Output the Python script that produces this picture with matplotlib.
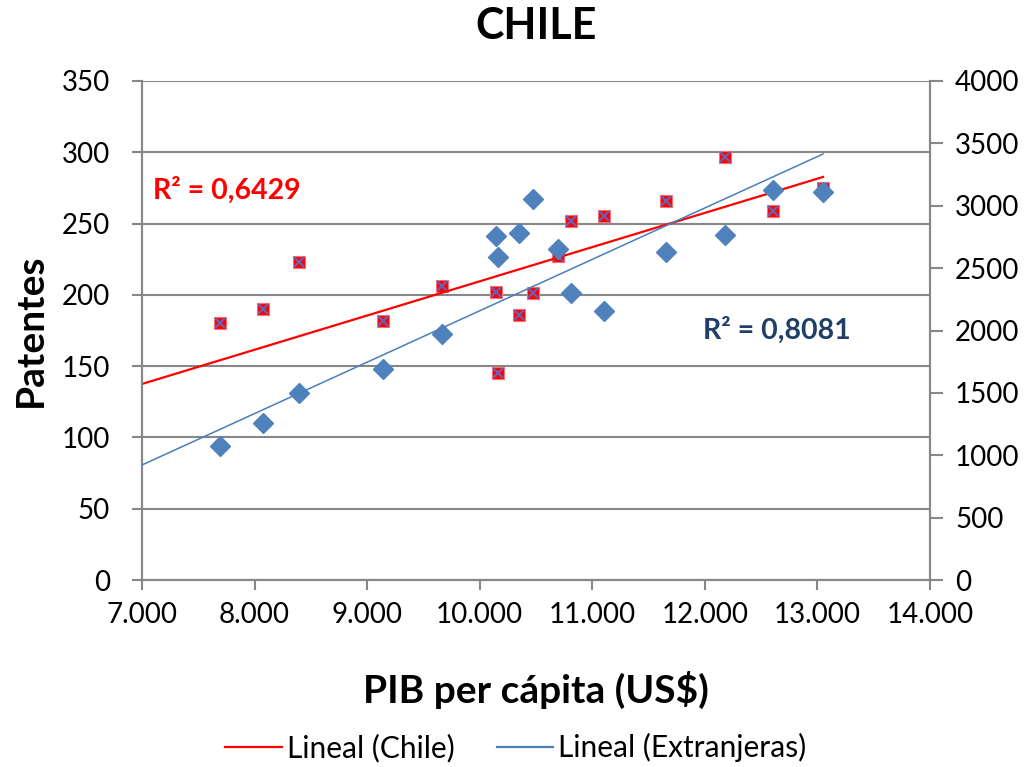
import numpy as np
import matplotlib
matplotlib.use("Agg")
import matplotlib.pyplot as plt
from matplotlib.ticker import FuncFormatter, MultipleLocator
from matplotlib.lines import Line2D

plt.rcParams['font.family'] = ['Lato', 'DejaVu Sans']

# PIB per cápita (US$)
pib = [7693, 8075, 8395, 9141, 9665, 10145, 10162, 10349, 10473,
       10695, 10811, 11104, 11655, 12179, 12605, 13050]
# patentes residentes (eje izquierdo)
chile = [180, 190, 223, 182, 206, 202, 145, 186, 201,
         227, 252, 255, 266, 297, 259, 275]
# patentes extranjeras (eje derecho)
extranjeras = [1074, 1258, 1499, 1691, 1972, 2757, 2589, 2782, 3054,
               2653, 2301, 2156, 2629, 2765, 3126, 3110]

# líneas de tendencia (PIB inicial / final)
tend_pib = [7000, 13050]
tend_chile = [137.5, 282.7]
tend_ext = [922, 3415]

r2_chile = "R² = 0,6429"
r2_ext = "R² = 0,8081"

gris = '#878787'
rojo = '#FF0000'
azul = '#4F81BD'
azul_linea = '#4A7EBB'

fig = plt.figure(figsize=(10.32, 7.67), dpi=100)
ax = fig.add_axes([0.1376, 0.2438, 0.9012 - 0.1376, 0.8944 - 0.2438])
ax2 = ax.twinx()

ax.set_xlim(7000, 14000)
ax.set_ylim(0, 350)
ax2.set_ylim(0, 4000)

# puntos Chile: cuadrado rojo con una x encima
ax.plot(pib, chile, 's', ms=8.6, mfc=rojo, mec='#ff7070', mew=0.8, zorder=3)
ax.plot(pib, chile, 'x', ms=7, mec='#6a5fb5', mew=1.6, zorder=4)
ax.plot(tend_pib, tend_chile, color=rojo, lw=1.6, zorder=5)

ax2.plot(pib, extranjeras, 'D', ms=10.2, mfc=azul, mec=azul, zorder=3)
ax2.plot(tend_pib, tend_ext, color=azul_linea, lw=1.1, zorder=4)

ax.text(7100, 273, r2_chile, color=rojo, fontsize=20.5, fontweight='bold',
        va='center', ha='left')
ax.text(11984, 175, r2_ext, color='#1F3F66', fontsize=20.5, fontweight='bold',
        va='center', ha='left')

# ejes y rejilla
ax.yaxis.set_major_locator(MultipleLocator(50))
ax.xaxis.set_major_locator(MultipleLocator(1000))
ax2.yaxis.set_major_locator(MultipleLocator(500))
ax.xaxis.set_major_formatter(FuncFormatter(lambda v, p: f"{int(v):,}".replace(",", ".")))
ax.grid(axis='y', color=gris, lw=1.5)
ax.set_axisbelow(True)

for a in (ax, ax2):
    for s in a.spines.values():
        s.set_color(gris)
        s.set_linewidth(1.5)
    a.spines['top'].set_visible(False)
    a.tick_params(colors=gris, labelcolor='black', labelsize=20,
                  width=1.5, length=7, direction='out')
ax.tick_params(axis='y', pad=16)
ax.tick_params(axis='x', pad=9)
ax2.tick_params(axis='y', pad=9, length=9)

ax.set_title("CHILE", fontsize=31, fontweight='bold', pad=30)
ax.set_xlabel("PIB per cápita (US$)", fontsize=28, fontweight='bold', labelpad=31)
ax.set_ylabel("Patentes", fontsize=28, fontweight='bold', labelpad=10)

handles = [Line2D([], [], color=rojo, lw=1.6), Line2D([], [], color=azul_linea, lw=1.6)]
fig.legend(handles, ["Lineal (Chile)", "Lineal (Extranjeras)"], loc='center',
           bbox_to_anchor=(0.5, 0.025), ncol=2, frameon=False, fontsize=21.5,
           handlelength=1.9, handletextpad=0.17, columnspacing=1.4)

fig.savefig("out.png", dpi=100)
